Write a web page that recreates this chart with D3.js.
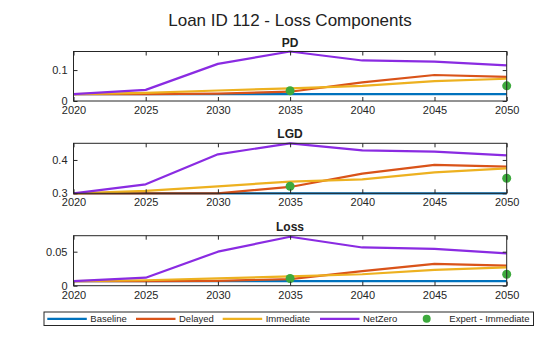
<!DOCTYPE html>
<html><head><meta charset="utf-8">
<script src="https://cdn.jsdelivr.net/npm/d3@7"></script>
<style>body{margin:0;background:#fff;} svg{display:block;font-family:"Liberation Sans",Arial,sans-serif;}</style>
</head><body><svg id="c" width="560" height="337"></svg>
<script>
const years = [2020, 2025, 2030, 2035, 2040, 2045, 2050];
const seriesNames = ["Baseline", "Delayed", "Immediate", "NetZero"];
const seriesColors = ["#0072BD", "#D95319", "#EDB120", "#8A2BE2"];
const expertColor = "#3DAA3D";
const expertYears = [2035, 2050];

const pdBaseline  = [0.022, 0.022, 0.022, 0.022, 0.022, 0.022, 0.022];
const pdDelayed   = [0.022, 0.022, 0.024, 0.030, 0.060, 0.084, 0.078];
const pdImmediate = [0.022, 0.026, 0.034, 0.041, 0.049, 0.064, 0.072];
const pdNetZero   = [0.022, 0.036, 0.120, 0.160, 0.131, 0.127, 0.115];
const pdExpert    = [0.033, 0.049];

const lgdBaseline  = [0.300, 0.300, 0.300, 0.300, 0.300, 0.300, 0.300];
const lgdDelayed   = [0.300, 0.300, 0.300, 0.319, 0.359, 0.385, 0.380];
const lgdImmediate = [0.300, 0.307, 0.321, 0.335, 0.342, 0.363, 0.375];
const lgdNetZero   = [0.300, 0.327, 0.417, 0.450, 0.429, 0.425, 0.414];
const lgdExpert    = [0.321, 0.345];

const lossBaseline  = [0.0066, 0.0066, 0.0066, 0.0066, 0.0066, 0.0066, 0.0066];
const lossDelayed   = [0.0066, 0.0066, 0.0072, 0.0096, 0.0215, 0.0320, 0.0296];
const lossImmediate = [0.0066, 0.0080, 0.0109, 0.0137, 0.0168, 0.0232, 0.0270];
const lossNetZero   = [0.0066, 0.0118, 0.0500, 0.0720, 0.0562, 0.0540, 0.0476];
const lossExpert    = [0.0106, 0.0169];

const panels = [
  {title:"PD", series:[pdBaseline,pdDelayed,pdImmediate,pdNetZero], expert:pdExpert, domain:[0,0.16], ticks:[0,0.1], fmt:d=>d===0?"0":String(d), top:51.5, bottom:101},
  {title:"LGD", series:[lgdBaseline,lgdDelayed,lgdImmediate,lgdNetZero], expert:lgdExpert, domain:[0.3,0.45], ticks:[0.3,0.4], fmt:d=>String(d), top:143.3, bottom:193.3},
  {title:"Loss", series:[lossBaseline,lossDelayed,lossImmediate,lossNetZero], expert:lossExpert, domain:[0,0.0735], ticks:[0,0.05], fmt:d=>d===0?"0":String(d), top:235.7, bottom:285.7}
];

const svg = d3.select("#c");
const x = d3.scaleLinear().domain([2020,2050]).range([73.5,506.7]);

svg.append("text").attr("x",290).attr("y",26).attr("text-anchor","middle")
  .attr("font-size",17).attr("fill","#222").text("Loan ID 112 - Loss Components");

panels.forEach(p=>{
  const y = d3.scaleLinear().domain(p.domain).range([p.bottom,p.top]);
  const g = svg.append("g");
  // title
  g.append("text").attr("x",290).attr("y",p.top-5).attr("text-anchor","middle")
    .attr("font-size",12).attr("font-weight","bold").attr("fill","#222").text(p.title);
  // lines
  const line = d3.line().x((d,i)=>x(years[i])).y(d=>y(d));
  p.series.forEach((s,i)=>{
    g.append("path").datum(s).attr("d",line).attr("fill","none")
      .attr("stroke",seriesColors[i]).attr("stroke-width",2.2).attr("stroke-linejoin","round");
  });
  p.expert.forEach((v,i)=>{
    g.append("circle").attr("cx",x(expertYears[i])).attr("cy",y(v)).attr("r",4.5).attr("fill",expertColor);
  });
  // box
  g.append("rect").attr("x",x.range()[0]).attr("y",p.top).attr("width",x.range()[1]-x.range()[0])
    .attr("height",p.bottom-p.top).attr("fill","none").attr("stroke","#262626").attr("stroke-width",1);
  // x axis
  const xa = d3.axisBottom(x).tickValues(years).tickFormat(d3.format("d")).tickSizeInner(-4).tickSizeOuter(0).tickPadding(7);
  const gx = g.append("g").attr("transform",`translate(0,${p.bottom})`).call(xa);
  gx.select(".domain").remove();
  gx.selectAll("line").attr("stroke","#262626");
  gx.selectAll("text").attr("font-size",11).attr("fill","#262626").attr("dy","0.55em");
  // top ticks
  const xt = d3.axisTop(x).tickValues(years).tickFormat("").tickSizeInner(-4).tickSizeOuter(0);
  const gxt = g.append("g").attr("transform",`translate(0,${p.top})`).call(xt);
  gxt.select(".domain").remove(); gxt.selectAll("line").attr("stroke","#262626");
  // y axis
  const ya = d3.axisLeft(y).tickValues(p.ticks).tickFormat(p.fmt).tickSizeInner(-4).tickSizeOuter(0).tickPadding(6);
  const gy = g.append("g").attr("transform",`translate(${x.range()[0]},0)`).call(ya);
  gy.select(".domain").remove();
  gy.selectAll("line").attr("stroke","#262626");
  gy.selectAll("text").attr("font-size",11).attr("fill","#262626");
  const yr = d3.axisRight(y).tickValues(p.ticks).tickFormat("").tickSizeInner(-4).tickSizeOuter(0);
  const gyr = g.append("g").attr("transform",`translate(${x.range()[1]},0)`).call(yr);
  gyr.select(".domain").remove(); gyr.selectAll("line").attr("stroke","#262626");
});

// legend
const lg = svg.append("g");
lg.append("rect").attr("x",44).attr("y",312).attr("width",489.5).attr("height",13.5)
  .attr("fill","#fff").attr("stroke","#262626").attr("stroke-width",1);
const legX = [47.3, 136, 222.7, 320];
seriesNames.forEach((n,i)=>{
  lg.append("line").attr("x1",legX[i]).attr("x2",legX[i]+39.5).attr("y1",318.8).attr("y2",318.8)
    .attr("stroke",seriesColors[i]).attr("stroke-width",2.2);
  lg.append("text").attr("x",legX[i]+43).attr("y",322.3).attr("font-size",9.5).attr("fill","#262626").text(n);
});
lg.append("circle").attr("cx",426.7).attr("cy",318.8).attr("r",4).attr("fill",expertColor);
lg.append("text").attr("x",449.3).attr("y",322.3).attr("font-size",9.5).attr("fill","#262626").text("Expert - Immediate");
</script></body></html>
